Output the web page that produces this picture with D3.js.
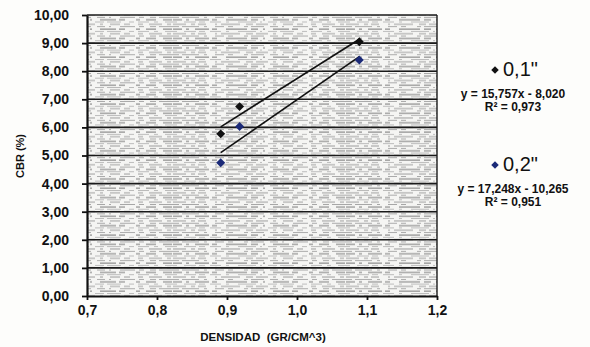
<!DOCTYPE html>
<html>
<head>
<meta charset="utf-8">
<script src="https://cdn.jsdelivr.net/npm/d3@7"></script>
<style>
  body { margin: 0; background: #fdfdfb; }
  svg { display: block; font-family: "Liberation Sans", Arial, sans-serif; }
  .tick text { font-weight: bold; font-size: 14px; fill: #111; }
</style>
</head>
<body>
<svg id="chart" width="590" height="347"></svg>
<script>
var densidad = [0.891, 0.918, 1.089];
var cbr01 = [5.77, 6.74, 9.05];
var cbr02 = [4.74, 6.03, 8.40];
var seriesNames = ['0,1"', '0,2"'];
var seriesColors = ["#111111", "#1b2a78"];
var slopes = [15.757, 17.248];
var intercepts = [-8.020, -10.265];
var equations = ["y = 15,757x - 8,020", "y = 17,248x - 10,265"];
var rSquared = ["R\u00b2 = 0,973", "R\u00b2 = 0,951"];
var xTicks = [0.7, 0.8, 0.9, 1.0, 1.1, 1.2];
var yTicks = [0, 1, 2, 3, 4, 5, 6, 7, 8, 9, 10];

var svg = d3.select("#chart");
var plotLeft = 87, plotRight = 437, plotTop = 15, plotBottom = 296;
var locale = d3.formatLocale({ decimal: ",", thousands: ".", grouping: [3], currency: ["", ""] });

var x = d3.scaleLinear().domain([0.7, 1.2]).range([plotLeft, plotRight]);
var y = d3.scaleLinear().domain([0, 10]).range([plotBottom, plotTop]);

// diamond marker, square rotated 45 degrees
var diamond = d3.symbol().type(d3.symbolSquare);

// plot area with scanned-looking streak texture (just decoration)
var defs = svg.append("defs");
var pat = defs.append("pattern")
    .attr("id", "streaks")
    .attr("patternUnits", "userSpaceOnUse")
    .attr("width", 173).attr("height", 9.36);
pat.append("rect").attr("width", 173).attr("height", 9.36).attr("fill", "#f5f5f3");
var streakRows = [
    { y: 1.0, c: "#8c8c8c", w: 1.1, d: "9,4,3,6,14,3,5,9,21,4,7,5,2,8,16,3,6,11,4,6,10,7" },
    { y: 3.3, c: "#b4b4b4", w: 0.9, d: "4,7,12,3,6,5,11,5,3,9,18,4,2,6,9,3,14,8,5,4,11,5" },
    { y: 5.7, c: "#999999", w: 1.0, d: "13,5,4,3,8,9,2,4,19,6,7,3,12,5,3,7,10,4,6,8,5,6" },
    { y: 8.0, c: "#a6a6a6", w: 1.0, d: "6,3,17,5,3,8,9,4,5,11,4,3,13,6,8,4,2,9,15,4,5,6" }
];
streakRows.forEach(function (r) {
    pat.append("line").attr("x1", 0).attr("x2", 173).attr("y1", r.y).attr("y2", r.y)
        .attr("stroke", r.c).attr("stroke-width", r.w)
        .attr("stroke-dasharray", r.d);
});

svg.append("rect")
    .attr("x", plotLeft).attr("y", plotTop)
    .attr("width", plotRight - plotLeft).attr("height", plotBottom - plotTop)
    .attr("fill", "url(#streaks)");

// gridlines
svg.append("g").selectAll("line")
    .data(yTicks.filter(function (d) { return d > 0; }))
    .enter().append("line")
    .attr("x1", plotLeft).attr("x2", plotRight)
    .attr("y1", function (d) { return y(d); })
    .attr("y2", function (d) { return y(d); })
    .attr("stroke", "#1a1a1a").attr("stroke-width", 1.6);

// right border
svg.append("line")
    .attr("x1", plotRight).attr("x2", plotRight).attr("y1", plotTop).attr("y2", plotBottom)
    .attr("stroke", "#1a1a1a").attr("stroke-width", 1.4);

// axes
var yAxis = svg.append("g")
    .attr("transform", "translate(" + plotLeft + ",0)")
    .call(d3.axisLeft(y).tickValues(yTicks).tickSize(5).tickSizeOuter(0).tickPadding(13).tickFormat(locale.format(".2f")));
var xAxis = svg.append("g")
    .attr("transform", "translate(0," + plotBottom + ")")
    .call(d3.axisBottom(x).tickValues(xTicks).tickSize(4).tickSizeOuter(0).tickPadding(5).tickFormat(locale.format(".1f")));
[yAxis, xAxis].forEach(function (a) {
    a.select(".domain").attr("stroke", "#111").attr("stroke-width", 2.2);
    a.selectAll(".tick line").attr("stroke", "#111").attr("stroke-width", 1.8);
});

// axis titles
svg.append("text")
    .attr("transform", "translate(24,156) rotate(-90)")
    .attr("text-anchor", "middle")
    .attr("font-size", 11).attr("font-weight", "bold").attr("fill", "#111")
    .text("CBR (%)");
svg.append("text")
    .attr("x", 263).attr("y", 341)
    .attr("text-anchor", "middle")
    .attr("font-size", 11.5).attr("font-weight", "bold").attr("fill", "#111")
    .attr("xml:space", "preserve")
    .text("DENSIDAD  (GR/CM^3)");

// trendlines and points
var series = [cbr01, cbr02];
var xMin = d3.min(densidad), xMax = d3.max(densidad);
series.forEach(function (vals, i) {
    svg.append("line")
        .attr("x1", x(xMin)).attr("x2", x(xMax))
        .attr("y1", y(slopes[i] * xMin + intercepts[i]))
        .attr("y2", y(slopes[i] * xMax + intercepts[i]))
        .attr("stroke", "#111").attr("stroke-width", 1.7);
});
series.forEach(function (vals, i) {
    svg.append("g").selectAll("path")
        .data(vals)
        .enter().append("path")
        .attr("d", diamond.size(40))
        .attr("transform", function (d, j) {
            return "translate(" + x(densidad[j]) + "," + y(d) + ") rotate(45)";
        })
        .attr("fill", seriesColors[i]);
});

// legend with equations
var legendY = [76, 171];
seriesNames.forEach(function (name, i) {
    var g = svg.append("g").attr("transform", "translate(513," + legendY[i] + ")");
    g.append("path")
        .attr("d", diamond.size(28))
        .attr("transform", "translate(-18,-6) rotate(45)")
        .attr("fill", seriesColors[i]);
    g.append("text")
        .attr("x", -10).attr("y", 0)
        .attr("font-size", 20).attr("fill", "#111")
        .text(name);
    g.append("text")
        .attr("x", 0).attr("y", 22)
        .attr("text-anchor", "middle")
        .attr("font-size", 12).attr("font-weight", "bold").attr("fill", "#111")
        .text(equations[i]);
    g.append("text")
        .attr("x", 0).attr("y", 35)
        .attr("text-anchor", "middle")
        .attr("font-size", 12).attr("font-weight", "bold").attr("fill", "#111")
        .text(rSquared[i]);
});
</script>
</body>
</html>
